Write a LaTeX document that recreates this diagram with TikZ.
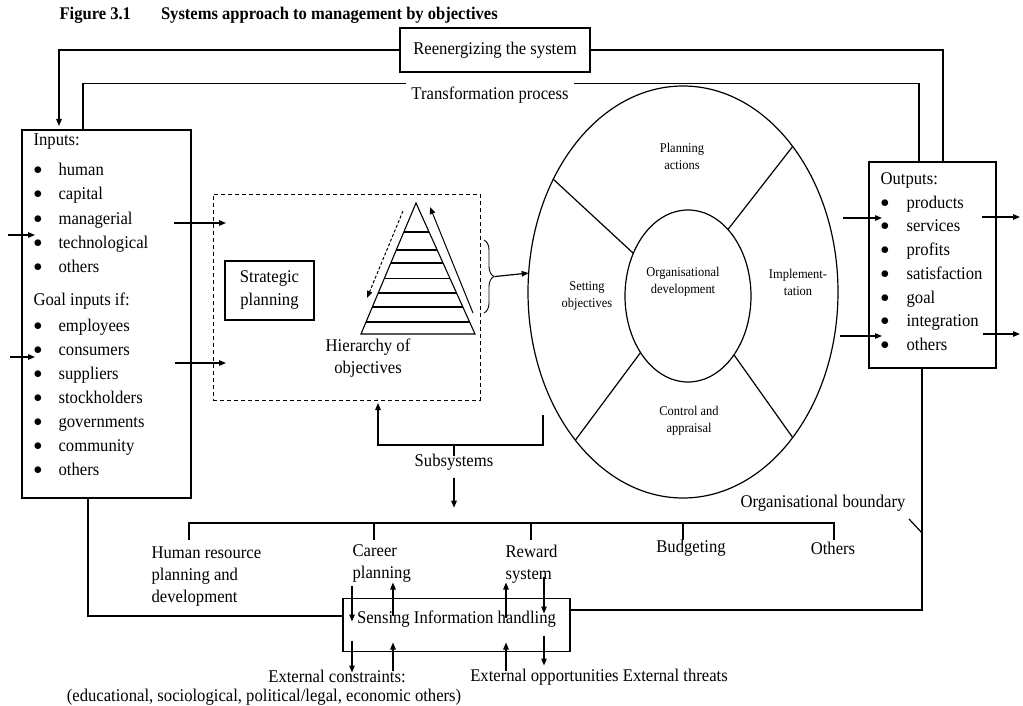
\documentclass[tikz,border=0pt]{standalone}
\usepackage{fontspec}
\setmainfont[FakeStretch=0.93]{Liberation Serif}
\usetikzlibrary{arrows.meta,shapes.geometric,calc,decorations.pathreplacing}

\newcommand\itembullet{\makebox[25pt][l]{\raisebox{0.5pt}{$\bullet$}}}

\begin{document}
\begin{tikzpicture}[x=1pt,y=-1pt,
  line width=1.2pt,
  tip/.style={-{Triangle[length=7pt,width=5.5pt]}},
  body/.style={font=\fontsize{17.9}{22}\selectfont, inner sep=0pt},
  small/.style={font=\fontsize{13.4}{17}\selectfont, inner sep=0pt, align=center},
  box/.style={draw, inner sep=0pt, outer sep=0pt},
  item/.style={body, anchor=mid west},
]
\useasboundingbox (0,0) rectangle (1023,706);

% ---------- title ----------
\node[anchor=mid west, inner sep=0pt, font=\bfseries\fontsize{17.8}{20}\selectfont] (title) at (59,17)
  {Figure 3.1\hspace{30pt}Systems approach to management by objectives};

% ---------- feedback loops at the top ----------
\node[box, body, minimum width=190pt, minimum height=44pt] (reen) at (495,50) {Reenergizing the system};
\node[body, inner xsep=5pt, inner ysep=3pt] (trans) at (490,95) {Transformation process};

% ---------- inputs ----------
\node[box, minimum width=169pt, minimum height=368pt] (inputs) at (106.5,314) {};
\node[item] (inhead) at (33,143) {Inputs:};
\foreach \t/\y [count=\i] in {human/173, capital/197, managerial/222, technological/246, others/270}
  \node[item] (in\i) at (33,\y) {\itembullet\t};
\node[item] (goalhead) at (33,303) {Goal inputs if:};
\foreach \t/\y [count=\i] in {employees/329, consumers/353, suppliers/377, stockholders/401,
                              governments/425, community/449, others/473}
  \node[item] (goal\i) at (33,\y) {\itembullet\t};

% ---------- strategic planning and hierarchy ----------
\node[box, dashed, dash pattern=on 4pt off 3pt, line width=1pt,
      minimum width=267pt, minimum height=206pt] (hier) at (346.5,297) {};
\node[box, align=center, minimum width=89pt, minimum height=59pt,
      font=\fontsize{17.9}{23}\selectfont] (strat) at (269.5,290.5) {Strategic\\planning};

\coordinate (apex) at (416,203);
\coordinate (bl) at (361,334);
\coordinate (br) at (475,334);
\draw[line width=1.1pt] (apex) -- (bl) -- (br) -- cycle;
\foreach \t in {0.221,0.359,0.458,0.573,0.687,0.794,0.908}
  \draw[line width=1.1pt] ($(apex)!\t!(bl)$) -- ($(apex)!\t!(br)$);
\draw[tip, dashed, dash pattern=on 3pt off 2pt, line width=1pt] (403,211) -- (367,298);
\draw[tip, line width=1pt] (473,313) -- (430,207);
\node[body, align=center] (hierlabel) at (368,358) {Hierarchy of\\objectives};

\draw[line width=0.9pt, decorate, decoration={brace, amplitude=10pt}] (484,240) -- (484,313);
\coordinate (bracetip) at (495,276.5);

% ---------- MBO cycle ----------
\node[draw, ellipse, minimum width=310pt, minimum height=412pt, inner sep=0pt, outer sep=0pt] (outer) at (683,292) {};
\node[draw, ellipse, minimum width=126pt, minimum height=172pt, inner sep=0pt, outer sep=0pt] (inner) at (688,296) {};
\draw (outer.139) -- (inner.142);
\draw (outer.53) -- (inner.59);
\draw (outer.234.6) -- (inner.230.5);
\draw (outer.307.8) -- (inner.308.3);
\node[small] (plan) at (682,156.5) {Planning\\actions};
\node[small] (orgdev) at (683,281.5) {Organisational\\development};
\node[small] (setobj) at (587,296) {Setting\\objectives};
\node[small] (impl) at (798,282) {Implement-\\tation};
\node[small] (ctrl) at (689,421) {Control and\\appraisal};

\draw[tip] (bracetip) -- (outer.173);

% ---------- outputs ----------
\node[box, minimum width=127pt, minimum height=206pt] (outputs) at (932.5,265) {};
\node[item] (outhead) at (880,182) {Outputs:};
\foreach \t/\y [count=\i] in {products/206, services/229, profits/253, satisfaction/277,
                              goal/301, integration/324, others/348}
  \node[item] (out\i) at (880,\y) {\makebox[26pt][l]{\raisebox{0.5pt}{$\bullet$}}\t};

% ---------- flows between inputs, planning and outputs ----------
\coordinate (inA) at (8,235);     \coordinate (inAe) at (35,235);
\coordinate (inB) at (10,357);    \coordinate (inBe) at (35,357);
\draw[tip] (inA) -- (inAe);
\draw[tip] (inB) -- (inBe);
\coordinate (midA) at (174,223);  \coordinate (midAe) at (226,223);
\coordinate (midB) at (175,363);  \coordinate (midBe) at (226,363);
\draw[tip] (midA) -- (midAe);
\draw[tip] (midB) -- (midBe);
\coordinate (oinA) at (843,218);  \coordinate (oinAe) at (882,218);
\coordinate (oinB) at (840,336);  \coordinate (oinBe) at (882,336);
\draw[tip] (oinA) -- (oinAe);
\draw[tip] (oinB) -- (oinBe);
\coordinate (ooutA) at (982,217); \coordinate (ooutAe) at (1020,217);
\coordinate (ooutB) at (983,334); \coordinate (ooutBe) at (1020,334);
\draw[tip] (ooutA) -- (ooutAe);
\draw[tip] (ooutB) -- (ooutBe);

% reenergizing loop
\coordinate (rr) at (943,50);
\coordinate (rl) at (59,50);
\draw (reen.east) -| (outputs.north -| rr);
\draw[tip] (reen.west) -| ([yshift=4pt]inputs.north -| rl);

% transformation process boundary
\coordinate (tlx) at (83,0);
\coordinate (trx) at (919,0);
\draw (inputs.north -| tlx) |- (trans.north west);
\draw (trans.north east) -| (outputs.north -| trx);

% ---------- subsystems ----------
\node[body] (subsys) at (454,462) {Subsystems};
\coordinate (fbR) at (543,415);
\coordinate (fbL) at (378,445);
\draw[tip] (fbR) |- (fbL) -- ([yshift=-3pt]hier.south -| fbL);
\draw (subsys.north |- fbL) -- ([yshift=-3pt]subsys.north);
\draw[tip] ([yshift=-7pt]subsys.south) -- ++(0,30);

\coordinate (barL) at (189,523);
\coordinate (barR) at (834,523);
\draw (barL) ++(0,17) -- (barL) -- (barR) -- ++(0,17);
\foreach \x in {374,531,683} \draw (\x,523) -- (\x,540);

\node[body, align=left, anchor=west] (hr) at (151,577) {Human resource\\planning and\\development};
\node[body, align=left, anchor=west] (career) at (352,564) {Career\\planning};
\node[body, align=left, anchor=west] (reward) at (505,564) {Reward\\system};
\node[body] (budget) at (691,548) {Budgeting};
\node[body] (others) at (833,548) {Others};

\node[body] (orgb) at (823,503) {Organisational boundary};
\coordinate (orgbp) at (909,519);
\coordinate (orgbq) at (922,533);
\draw (orgbp) -- (orgbq);

% ---------- sensing ----------
\node[box, body, minimum width=227pt, minimum height=53pt, text height=12.2pt, text depth=14.6pt]
  (sense) at (456.5,625) {Sensing Information handling};

\coordinate (rb) at (922,610);
\coordinate (lb) at (88,616);
\draw (outputs.south -| rb) |- (sense.east |- rb);
\draw (inputs.south -| lb) |- (sense.west |- lb);

\coordinate (c1) at (352,0);
\coordinate (c2) at (393,0);
\coordinate (c3) at (506,0);
\coordinate (c4) at (544,0);
\draw[tip] ([yshift=13pt]sense.north -| c1) -- ([yshift=-23pt]sense.north -| c1);
\draw[tip] ([yshift=-17pt]sense.north -| c2) -- ([yshift=16pt]sense.north -| c2);
\draw[tip] ([yshift=-19pt]sense.north -| c3) -- ([yshift=16pt]sense.north -| c3);
\draw[tip] ([yshift=22pt]sense.north -| c4) -- ([yshift=-15pt]sense.north -| c4);

\node[body] (extc) at (337,676) {External constraints:};
\node[body] (extc2) at (264,697) {(educational, sociological, political/legal, economic others)};
\node[body] (exto) at (599,677) {External opportunities External threats};

\draw[tip] ([yshift=11pt]sense.south -| c1) -- ([yshift=-21pt]sense.south -| c1);
\draw[tip] ([yshift=-19pt]sense.south -| c2) -- ([yshift=9pt]sense.south -| c2);
\draw[tip] ([yshift=-19pt]sense.south -| c3) -- ([yshift=9pt]sense.south -| c3);
\draw[tip] ([yshift=16pt]sense.south -| c4) -- ([yshift=-14pt]sense.south -| c4);
\end{tikzpicture}
\end{document}
